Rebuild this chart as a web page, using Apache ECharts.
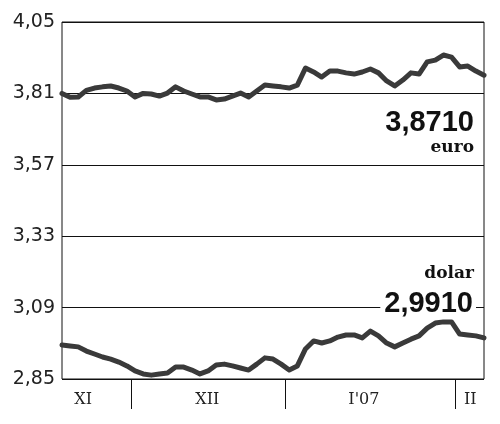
<!DOCTYPE html>
<html>
<head>
<meta charset="utf-8">
<script src="https://cdn.jsdelivr.net/npm/echarts@6/dist/echarts.min.js"></script>
<style>
  html, body { margin: 0; padding: 0; background: #fff; }
  #chart { width: 500px; height: 424px; }
</style>
</head>
<body>
<div id="chart"></div>
<script>
// daily fixings, 20 XI 2006 - early II 2007 (business days)
const euro = [3.810, 3.797, 3.798, 3.820, 3.828, 3.832, 3.835, 3.828, 3.818, 3.798,
  3.810, 3.808, 3.801, 3.811, 3.832, 3.818, 3.808, 3.798, 3.798, 3.788,
  3.791, 3.801, 3.811, 3.798, 3.818, 3.838, 3.835, 3.832, 3.828, 3.838,
  3.895, 3.882, 3.865, 3.885, 3.885, 3.879, 3.875, 3.882, 3.892, 3.879,
  3.852, 3.835, 3.855, 3.879, 3.875, 3.916, 3.922, 3.939, 3.932, 3.899,
  3.902, 3.885, 3.871];
const dolar = [2.964, 2.961, 2.958, 2.944, 2.934, 2.924, 2.917, 2.907, 2.894, 2.877,
  2.867, 2.863, 2.867, 2.870, 2.890, 2.890, 2.880, 2.867, 2.877, 2.897,
  2.900, 2.894, 2.887, 2.880, 2.900, 2.921, 2.917, 2.900, 2.880, 2.894,
  2.951, 2.978, 2.971, 2.978, 2.991, 2.998, 2.998, 2.988, 3.011, 2.995,
  2.971, 2.958, 2.971, 2.984, 2.995, 3.021, 3.038, 3.042, 3.042, 3.001,
  2.998, 2.995, 2.988];
const yTicks = [2.85, 3.09, 3.33, 3.57, 3.81, 4.05];
const months = ['XI', 'XII', "I'07", 'II'];
const monthBounds = [8.5, 27.5, 48.5];      // between last and first day of month
const monthLabelAt = [2.6, 17.9, 37.2, 50.3];
const lastEuro = '3,8710';
const lastDolar = '2,9910';

const chart = echarts.init(document.getElementById('chart'));
const lineColor = '#3a3a3a';
const toPairs = arr => arr.map((v, i) => [i, v]);

chart.setOption({
  animation: false,
  grid: {
    left: 62, right: 16, top: 22, bottom: 45,
    show: true,
    borderColor: '#111',
    borderWidth: 1
  },
  xAxis: {
    type: 'value',
    min: 0,
    max: euro.length - 1,
    axisLine: { show: false },
    splitLine: { show: false },
    axisTick: {
      show: true,
      customValues: monthBounds,
      length: 30,
      lineStyle: { color: '#111', width: 1 }
    },
    axisLabel: {
      customValues: monthLabelAt,
      margin: 13,
      color: '#222',
      fontFamily: 'DejaVu Serif',
      fontSize: 16,
      formatter: v => months[monthLabelAt.indexOf(v)] || ''
    }
  },
  yAxis: {
    type: 'value',
    min: 2.85,
    max: 4.05,
    axisLine: { show: false },
    axisTick: { show: false, customValues: yTicks },
    splitLine: { show: true, lineStyle: { color: '#111', width: 1 } },
    axisLabel: {
      customValues: yTicks,
      margin: 7,
      color: '#222',
      fontFamily: 'DejaVu Sans',
      fontSize: 19,
      formatter: v => v.toFixed(2).replace('.', ',')
    }
  },
  series: [
    {
      name: 'euro',
      type: 'line',
      data: toPairs(euro),
      showSymbol: false,
      lineStyle: { color: lineColor, width: 5, join: 'round', cap: 'round' },
      z: 5
    },
    {
      name: 'dolar',
      type: 'line',
      data: toPairs(dolar),
      showSymbol: false,
      lineStyle: { color: lineColor, width: 5, join: 'round', cap: 'round' },
      z: 5
    }
  ],
  graphic: [
    {
      type: 'text', right: 26, top: 108, z: 100,
      style: { text: lastEuro, fill: '#111', font: 'bold 29px "Liberation Sans"' }
    },
    {
      type: 'text', right: 26, top: 139, z: 100,
      style: { text: 'euro', fill: '#111', font: 'bold 17px "DejaVu Serif"' }
    },
    {
      type: 'text', right: 26, top: 265, z: 100,
      style: { text: 'dolar', fill: '#111', font: 'bold 17px "DejaVu Serif"' }
    },
    {
      type: 'text', right: 24, top: 289, z: 100,
      style: {
        text: lastDolar, fill: '#111', font: 'bold 29px "Liberation Sans"',
        backgroundColor: '#fff', padding: [0, 3, 0, 4]
      }
    }
  ]
});
</script>
</body>
</html>
